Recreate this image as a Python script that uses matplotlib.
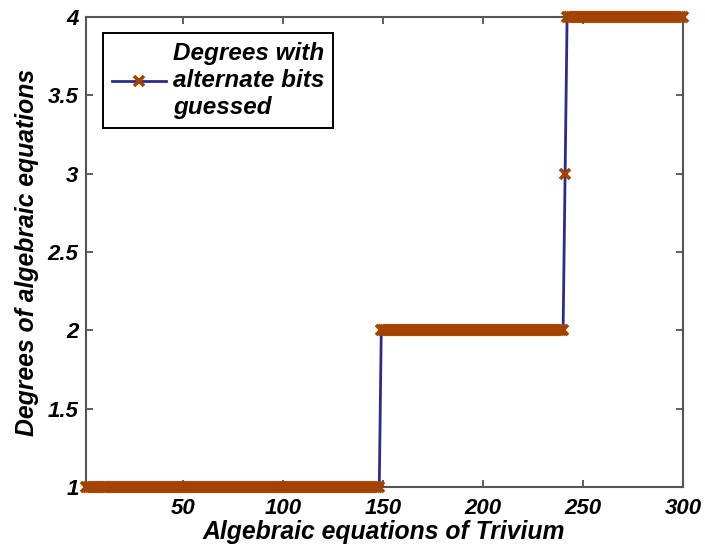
import numpy as np
import matplotlib
matplotlib.use('Agg')
import matplotlib.pyplot as plt

# equation index -> degree (alternate bits guessed)
eq_idx = np.arange(1, 301)
deg_breaks = [148, 240, 241]   # last index of degree 1, 2, 3
degree_levels = [1, 2, 3, 4]
degrees = np.select(
    [eq_idx <= deg_breaks[0], eq_idx <= deg_breaks[1], eq_idx <= deg_breaks[2]],
    degree_levels[:3], default=degree_levels[3])

xticks = [50, 100, 150, 200, 250, 300]
yticks = [1, 1.5, 2, 2.5, 3, 3.5, 4]
ytick_labels = ['1', '1.5', '2', '2.5', '3', '3.5', '4']

plt.rcParams['font.family'] = ['Liberation Sans', 'DejaVu Sans']
font = dict(weight='bold', style='italic')

fig = plt.figure(figsize=(7.05, 5.52), dpi=100)
ax = fig.add_axes([0.1213, 0.118, 0.8475, 0.851])

ax.plot(eq_idx, degrees, color='#2b2b8c', lw=2, marker='x',
        markersize=7.5, markeredgewidth=2.6, markeredgecolor='#a34300',
        label='Degrees with\nalternate bits\nguessed', clip_on=False, zorder=3)

ax.set_xlim(1, 300)
ax.set_ylim(1, 4)
ax.set_xticks(xticks)
ax.set_xticklabels([str(t) for t in xticks], fontsize=16, **font)
ax.set_yticks(yticks)
ax.set_yticklabels(ytick_labels, fontsize=16, **font)
ax.tick_params(axis='x', pad=8)
ax.tick_params(axis='y', pad=5)
ax.tick_params(direction='in', top=True, right=True, length=5,
               color='#444444', width=1.2)
for sp in ax.spines.values():
    sp.set_color('#555555')
    sp.set_linewidth(1.5)

ax.set_xlabel('Algebraic equations of Trivium', fontsize=17.8, labelpad=1, **font)
ax.set_ylabel('Degrees of algebraic equations', fontsize=17.8, labelpad=6, **font)

leg = ax.legend(loc='upper left', bbox_to_anchor=(0.029, 0.966),
                prop=dict(family='Liberation Sans', weight='bold',
                          style='italic', size=17.5),
                fancybox=False, edgecolor='black', framealpha=1,
                handlelength=2.2, handletextpad=0.3, borderpad=0.38,
                borderaxespad=0, labelspacing=0.1)
leg.get_frame().set_linewidth(1.4)

fig.savefig('out.png', dpi=100)
